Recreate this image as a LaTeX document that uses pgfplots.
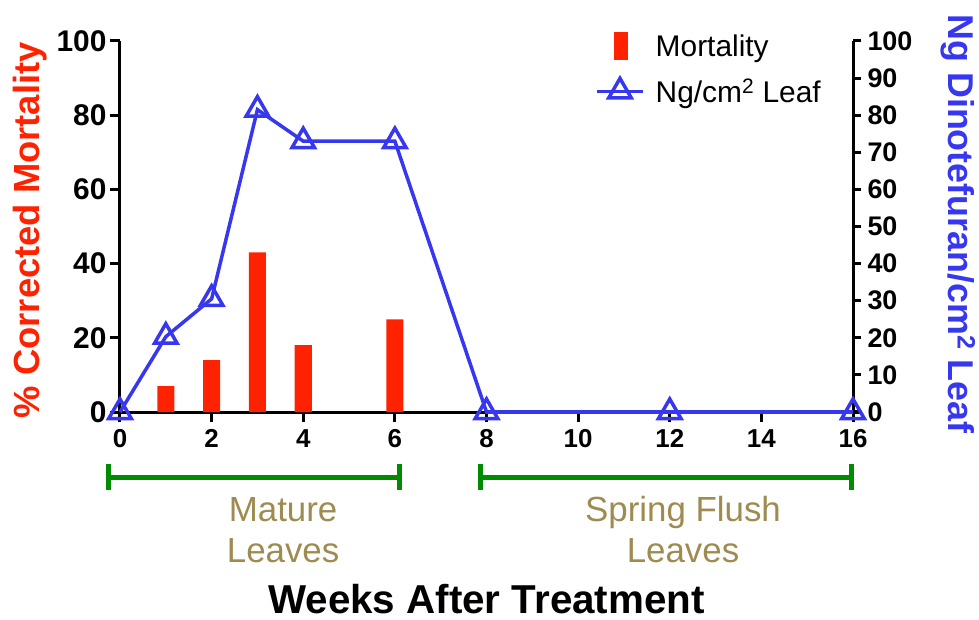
\documentclass[border=0pt]{standalone}
\usepackage{pgfplots}
\pgfplotsset{compat=1.18}
\usepackage{pgfplotstable}
\usepackage{fontspec}
\setmainfont{Liberation Sans}
\definecolor{mred}{RGB}{255,34,0}
\definecolor{mblue}{RGB}{55,55,240}
\definecolor{mgreen}{RGB}{0,140,0}
\definecolor{mkhaki}{RGB}{158,139,80}
\pgfplotsset{mylineleg/.style={legend image code/.code={\draw[mark repeat=2,mark phase=2,##1] plot coordinates {(0bp,0bp) (23bp,0bp) (46bp,0bp)};}}}

\pgfplotstableread{
x y
1 7
2 14
3 43
4 18
6 25
}\mort
\pgfplotstableread{
x y
0 0
1 20.3
2 30.5
3 81.5
4 73
6 73
8 0
12 0
16 0
}\ngleaf

\begin{document}
\begin{tikzpicture}
\path[use as bounding box] (-120bp,-208bp) rectangle (859bp,412bp);
\begin{axis}[
 scale only axis, width=733bp, height=371bp,
 xmin=0, xmax=16, ymin=0, ymax=100,
 axis x line*=bottom, axis y line*=left,
 axis line style={line width=3bp, -},
 xtick={0,2,...,16}, ytick={0,20,...,100},
 tick style={line width=3bp, black},
 tick align=outside, major tick length=10bp,
 /pgf/number format/assume math mode=true,
 yticklabel style={font=\bfseries\fontsize{30}{30}\selectfont},
 xticklabel style={font=\bfseries\fontsize{26}{26}\selectfont, yshift=-4bp},
 clip=false,
 every axis y label/.style={at={(axis description cs:-0.1228,0.49)}, anchor=center, rotate=90, font=\bfseries\fontsize{36.5}{36.5}\selectfont, text=mred},
 ylabel={\% Corrected Mortality},
 every axis x label/.style={at={([yshift=-201bp]axis description cs:0.5,0)}, anchor=base, font=\bfseries\fontsize{40.5}{40.5}\selectfont},
 xlabel={Weeks After Treatment},
]
\addplot[ybar, bar width=17bp, fill=mred, draw=none] table {\mort};
\draw[mgreen, line width=5bp] ([yshift=-65bp]axis cs:-0.26,0) -- ([yshift=-65bp]axis cs:6.1,0);
\draw[mgreen, line width=5bp] ([yshift=-52bp]axis cs:-0.26,0) -- ([yshift=-78bp]axis cs:-0.26,0);
\draw[mgreen, line width=5bp] ([yshift=-52bp]axis cs:6.1,0) -- ([yshift=-78bp]axis cs:6.1,0);
\draw[mgreen, line width=5bp] ([yshift=-65bp]axis cs:7.86,0) -- ([yshift=-65bp]axis cs:15.96,0);
\draw[mgreen, line width=5bp] ([yshift=-52bp]axis cs:7.86,0) -- ([yshift=-78bp]axis cs:7.86,0);
\draw[mgreen, line width=5bp] ([yshift=-52bp]axis cs:15.96,0) -- ([yshift=-78bp]axis cs:15.96,0);
\node[anchor=base, text=mkhaki, font=\fontsize{35}{35}\selectfont] at ([yshift=-109bp]axis cs:3.56,0) {Mature};
\node[anchor=base, text=mkhaki, font=\fontsize{35}{35}\selectfont] at ([yshift=-150bp]axis cs:3.56,0) {Leaves};
\node[anchor=base, text=mkhaki, font=\fontsize{35}{35}\selectfont] at ([yshift=-109bp]axis cs:12.29,0) {Spring Flush};
\node[anchor=base, text=mkhaki, font=\fontsize{35}{35}\selectfont] at ([yshift=-150bp]axis cs:12.29,0) {Leaves};
\end{axis}
\begin{axis}[
 scale only axis, width=733bp, height=371bp,
 xmin=0, xmax=16, ymin=0, ymax=100,
 axis x line=none, axis y line*=right,
 axis line style={line width=3bp, -},
 ytick={0,10,...,100},
 tick style={line width=3bp, black},
 tick align=outside, major tick length=8bp,
 /pgf/number format/assume math mode=true,
 yticklabel style={font=\bfseries\fontsize{27}{27}\selectfont, xshift=3bp},
 clip=false,
 every axis y label/.style={at={(axis description cs:1.1432,0.507)}, anchor=center, rotate=-90, font=\bfseries\fontsize{36}{36}\selectfont, text=mblue},
 ylabel={Ng Dinotefuran/cm\textsuperscript{2} Leaf},
 legend style={at={(axis description cs:0.644,1.03)}, anchor=north west, draw=none, fill=none, font=\fontsize{30}{30}\selectfont, row sep=17bp, nodes={inner xsep=11bp}},
 legend cell align=left,
]
\addlegendimage{legend image code/.code={\fill[mred] (17bp,-13bp) rectangle (30bp,14bp);}}
\addlegendentry{Mortality}
\addplot[mblue, line width=3.5bp, mark=triangle, mark size=13bp, mark options={solid}, mylineleg] table {\ngleaf};
\addlegendentry{Ng/cm\textsuperscript{2} Leaf}
\end{axis}
\end{tikzpicture}
\end{document}
